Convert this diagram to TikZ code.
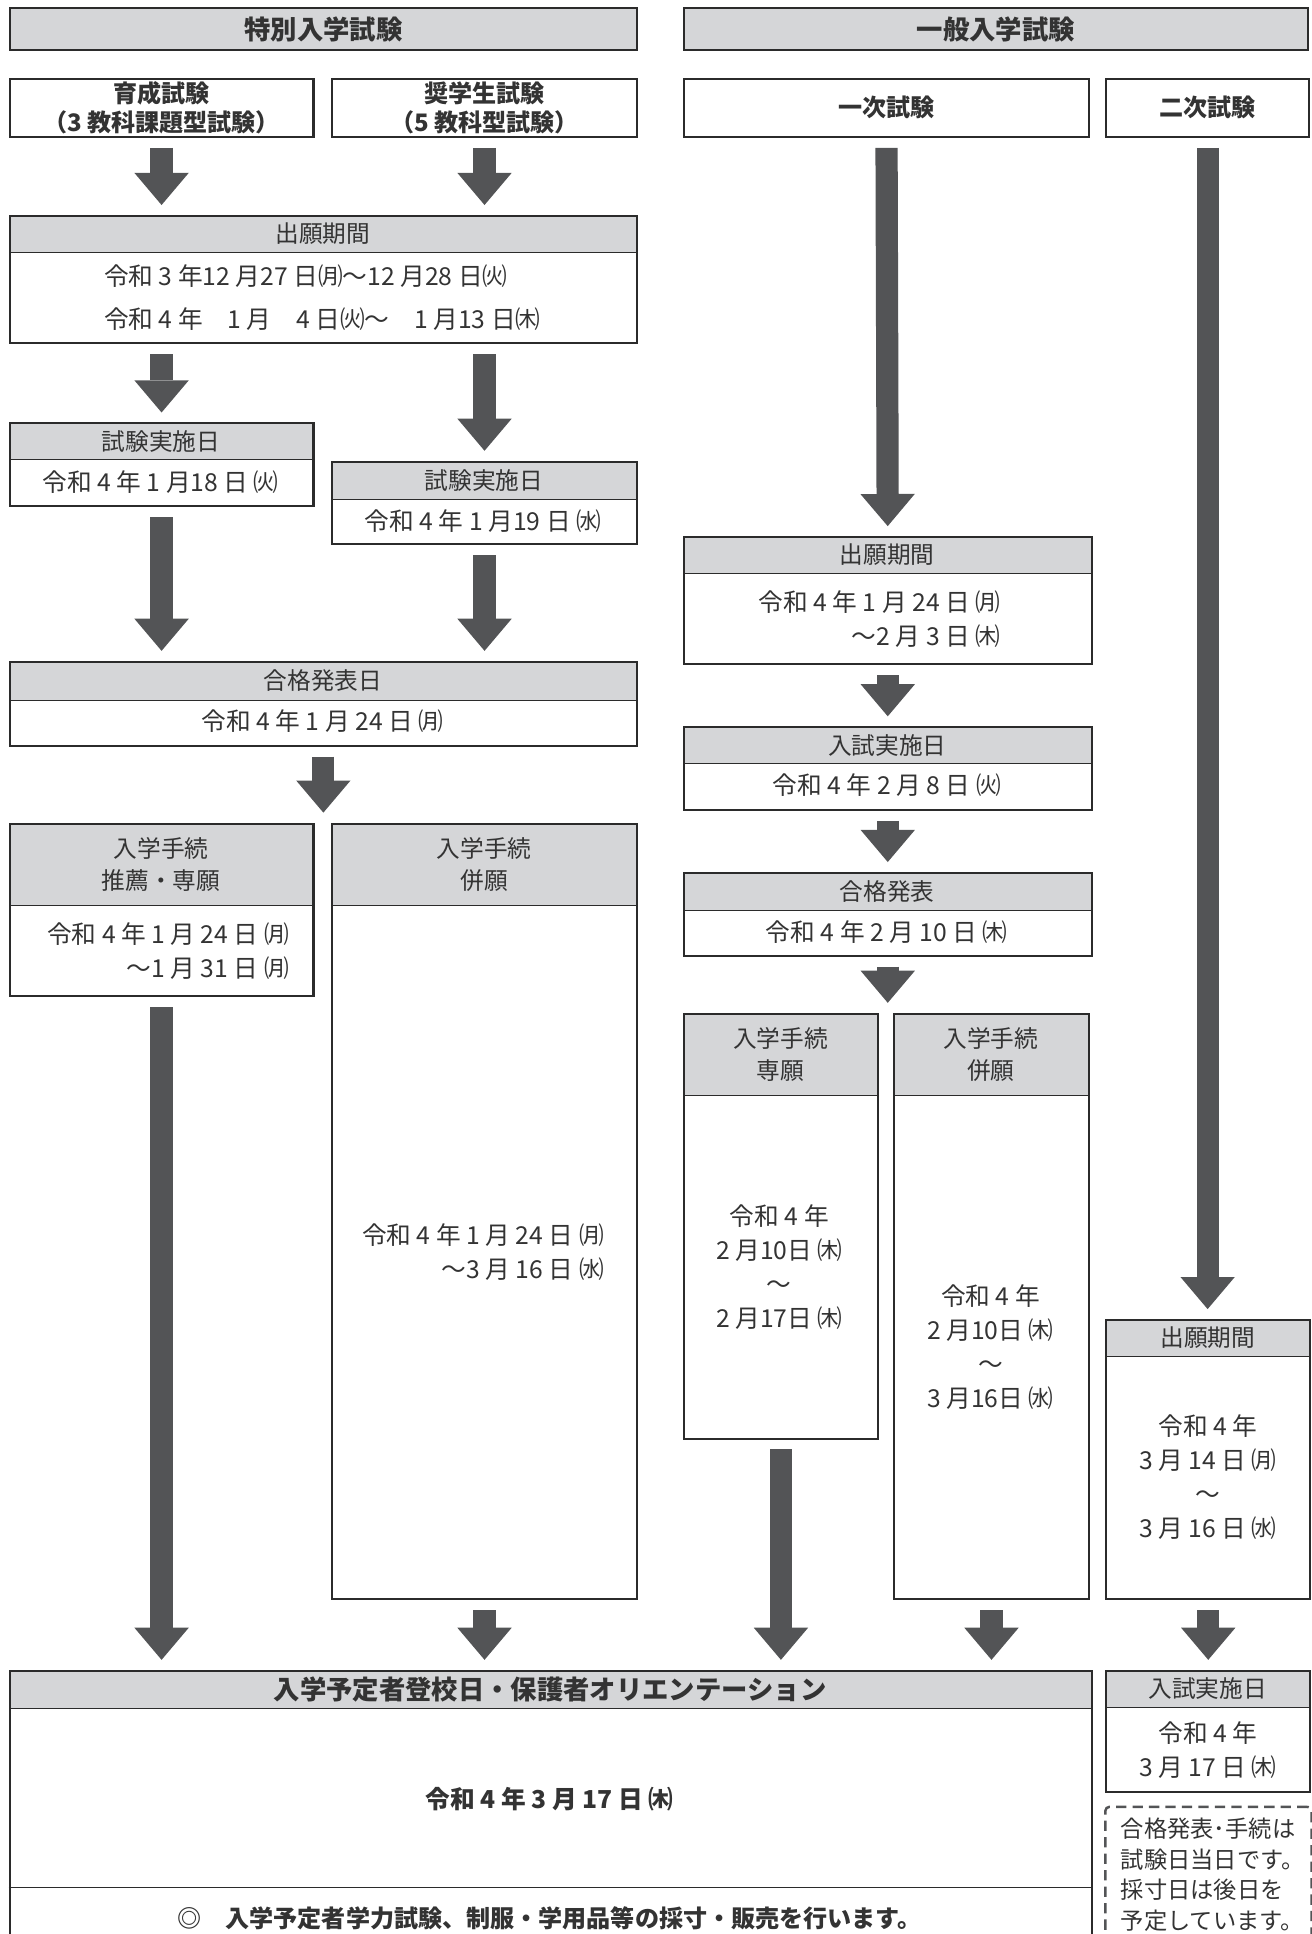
\documentclass[tikz,border=0pt]{standalone}
\usepackage{fontspec}
\setmainfont{Noto Sans CJK JP}
\usetikzlibrary{arrows.meta}
\definecolor{frameGray}{HTML}{2B2B2B}
\definecolor{headGray}{HTML}{D5D6D8}
\definecolor{arrowGray}{HTML}{535456}
\definecolor{textGray}{HTML}{333333}
\newcommand{\unitpx}{0.6pt}
\tikzstyle{frameBox} = [rectangle, draw=frameGray, line width=1pt, inner sep=0pt, anchor=north west]
\tikzstyle{titleBox} = [frameBox, fill=headGray, text=textGray, font=\bfseries\fontsize{12.8}{15}\selectfont]
\tikzstyle{examBox} = [frameBox, align=center, text=textGray, font=\bfseries\fontsize{11.7}{14}\selectfont]
\tikzstyle{headBox} = [rectangle, fill=headGray, draw=frameGray, line width=0.5pt, inner sep=0pt, anchor=north west, align=center, text=textGray, font=\fontsize{11.5}{15.5}\selectfont]
\tikzstyle{bodyText} = [inner sep=0pt, text=textGray, font=\fontsize{12}{16.5}\selectfont]
\tikzstyle{bigArrow} = [draw=arrowGray, line width=10.8pt, -{Triangle[width=26.4pt, length=15.6pt, line width=0pt]}, shorten <=4.8pt, shorten >=4.8pt]

\begin{document}
\begin{tikzpicture}[x=0.6pt, y=-0.6pt]
	\useasboundingbox (0,0) rectangle (1062,1566);
	% titles
	\node [titleBox, minimum width=508*\unitpx, minimum height=34*\unitpx] (specTitle) at (7,6) {特別入学試験};
	\node [titleBox, minimum width=505*\unitpx, minimum height=34*\unitpx] (genTitle) at (553,6) {一般入学試験};
	\node [examBox, minimum width=246*\unitpx, minimum height=47*\unitpx] (ikusei) at (7,63) {育成試験\\（3 教科課題型試験）};
	\node [examBox, minimum width=247*\unitpx, minimum height=47*\unitpx] (shogaku) at (268,63) {奨学生試験\\（5 教科型試験）};
	\node [examBox, minimum width=328*\unitpx, minimum height=47*\unitpx] (ichiji) at (553,63) {一次試験};
	\node [examBox, minimum width=164*\unitpx, minimum height=47*\unitpx] (niji) at (895,63) {二次試験};

	% special exam
	\node [headBox, minimum width=508*\unitpx, minimum height=30*\unitpx] (appSHead) at (7,174) {出願期間};
	\node [frameBox, minimum width=508*\unitpx, minimum height=103*\unitpx] (appS) at (7,174) {};
	\node [bodyText, align=left] (appSText) at (261,241) {令和 3 年12 月27 日㈪～12 月28 日㈫\\[4pt]令和 4 年\quad 1 月\quad 4 日㈫～\quad 1 月13 日㈭};

	\node [headBox, minimum width=246*\unitpx, minimum height=30*\unitpx] (examS1Head) at (7,342) {試験実施日};
	\node [frameBox, minimum width=246*\unitpx, minimum height=67*\unitpx] (examS1) at (7,342) {};
	\node [bodyText] (examS1Text) at (130,390) {令和 4 年 1 月18 日 ㈫};

	\node [headBox, minimum width=247*\unitpx, minimum height=31*\unitpx] (examS2Head) at (268,373) {試験実施日};
	\node [frameBox, minimum width=247*\unitpx, minimum height=67*\unitpx] (examS2) at (268,373) {};
	\node [bodyText] (examS2Text) at (391,422) {令和 4 年 1 月19 日 ㈬};

	\node [headBox, minimum width=508*\unitpx, minimum height=32*\unitpx] (passSHead) at (7,535) {合格発表日};
	\node [frameBox, minimum width=508*\unitpx, minimum height=68*\unitpx] (passS) at (7,535) {};
	\node [bodyText] (passSText) at (261,584) {令和 4 年 1 月 24 日 ㈪};

	\node [headBox, minimum width=246*\unitpx, minimum height=67*\unitpx] (procS1Head) at (7,666) {入学手続\\推薦・専願};
	\node [frameBox, minimum width=246*\unitpx, minimum height=140*\unitpx] (procS1) at (7,666) {};
	\node [bodyText, align=right] (procS1Text) at (136,770) {令和 4 年 1 月 24 日 ㈪\\～1 月 31 日 ㈪};

	\node [headBox, minimum width=247*\unitpx, minimum height=67*\unitpx] (procS2Head) at (268,666) {入学手続\\併願};
	\node [frameBox, minimum width=247*\unitpx, minimum height=628*\unitpx] (procS2) at (268,666) {};
	\node [bodyText, align=right] (procS2Text) at (391,1014) {令和 4 年 1 月 24 日 ㈪\\～3 月 16 日 ㈬};

	% general exam, first round
	\node [headBox, minimum width=330*\unitpx, minimum height=30*\unitpx] (appGHead) at (553,434) {出願期間};
	\node [frameBox, minimum width=330*\unitpx, minimum height=103*\unitpx] (appG) at (553,434) {};
	\node [bodyText, align=right] (appGText) at (712,501) {令和 4 年 1 月 24 日 ㈪\\～2 月 3 日 ㈭};

	\node [headBox, minimum width=330*\unitpx, minimum height=30*\unitpx] (examGHead) at (553,588) {入試実施日};
	\node [frameBox, minimum width=330*\unitpx, minimum height=67*\unitpx] (examG) at (553,588) {};
	\node [bodyText] (examGText) at (718,636) {令和 4 年 2 月 8 日 ㈫};

	\node [headBox, minimum width=330*\unitpx, minimum height=31*\unitpx] (passGHead) at (553,706) {合格発表};
	\node [frameBox, minimum width=330*\unitpx, minimum height=67*\unitpx] (passG) at (553,706) {};
	\node [bodyText] (passGText) at (718,755) {令和 4 年 2 月 10 日 ㈭};

	\node [headBox, minimum width=157*\unitpx, minimum height=67*\unitpx] (procG1Head) at (553,820) {入学手続\\専願};
	\node [frameBox, minimum width=157*\unitpx, minimum height=344*\unitpx] (procG1) at (553,820) {};
	\node [bodyText, align=center] (procG1Text) at (631,1026) {令和 4 年\\2 月10日 ㈭\\～\\2 月17日 ㈭};

	\node [headBox, minimum width=158*\unitpx, minimum height=67*\unitpx] (procG2Head) at (723,820) {入学手続\\併願};
	\node [frameBox, minimum width=158*\unitpx, minimum height=474*\unitpx] (procG2) at (723,820) {};
	\node [bodyText, align=center] (procG2Text) at (802,1091) {令和 4 年\\2 月10日 ㈭\\～\\3 月16日 ㈬};

	% general exam, second round
	\node [headBox, minimum width=165*\unitpx, minimum height=30*\unitpx] (app2Head) at (895,1068) {出願期間};
	\node [frameBox, minimum width=165*\unitpx, minimum height=226*\unitpx] (app2) at (895,1068) {};
	\node [bodyText, align=center] (app2Text) at (978,1196) {令和 4 年\\3 月 14 日 ㈪\\～\\3 月 16 日 ㈬};

	\node [headBox, minimum width=165*\unitpx, minimum height=30*\unitpx] (exam2Head) at (895,1352) {入試実施日};
	\node [frameBox, minimum width=165*\unitpx, minimum height=98*\unitpx] (exam2) at (895,1352) {};
	\node [bodyText, align=center] (exam2Text) at (978,1417) {令和 4 年\\3 月 17 日 ㈭};

	\node [rectangle, draw=arrowGray, line width=1.2pt, dash pattern=on 5pt off 3pt, rounded corners=2pt, anchor=north west, minimum width=167*\unitpx, minimum height=110*\unitpx, inner sep=0pt] (note) at (894,1462) {};
	\node [inner sep=0pt, align=left, text=textGray, font=\fontsize{11.3}{15}\selectfont] (noteText) at (982,1518) {合格発表･手続は\\試験日当日です。\\採寸日は後日を\\予定しています。};

	% orientation
	\node [headBox, minimum width=876*\unitpx, minimum height=31*\unitpx, font=\bfseries\fontsize{12.8}{15}\selectfont] (orientHead) at (7,1352) {入学予定者登校日・保護者オリエンテーション};
	\node [frameBox, minimum width=876*\unitpx, minimum height=220*\unitpx] (orient) at (7,1352) {};
	\node [bodyText, font=\bfseries\fontsize{12}{16.5}\selectfont] (orientDate) at (445,1457) {令和 4 年 3 月 17 日 ㈭};
	\draw [frameGray, line width=0.5pt] (orient.west |- 0,1528) -- (orient.east |- 0,1528);
	\node [bodyText, font=\bfseries\fontsize{11.7}{15}\selectfont] (orientNote) at (445,1553) {◎\quad 入学予定者学力試験、制服・学用品等の採寸・販売を行います。};

	% arrows
	\draw [bigArrow] (ikusei.south) -- (ikusei.south |- appS.north);
	\draw [bigArrow] (shogaku.south) -- (shogaku.south |- appS.north);
	\draw [bigArrow] (examS1.north |- appS.south) -- (examS1.north);
	\draw [bigArrow] (examS2.north |- appS.south) -- (examS2.north);
	\draw [bigArrow] (examS1.south) -- (examS1.south |- passS.north);
	\draw [bigArrow] (examS2.south) -- (examS2.south |- passS.north);
	\draw [bigArrow] (passS.south) -- (passS.south |- procS1.north);
	\draw [bigArrow] (procS1.south) -- (procS1.south |- orient.north);
	\draw [bigArrow] (procS2.south) -- (procS2.south |- orient.north);
	\draw [bigArrow] (ichiji.south) -- (appG.north);
	\draw [bigArrow] (appG.south) -- (examG.north);
	\draw [bigArrow] (examG.south) -- (passG.north);
	\draw [bigArrow] (passG.south) -- (passG.south |- procG1.north);
	\draw [bigArrow] (procG1.south) -- (procG1.south |- orient.north);
	\draw [bigArrow] (procG2.south) -- (procG2.south |- orient.north);
	\draw [bigArrow] (niji.south) -- (niji.south |- app2.north);
	\draw [bigArrow] (app2.south) -- (exam2.north);
\end{tikzpicture}
\end{document}
